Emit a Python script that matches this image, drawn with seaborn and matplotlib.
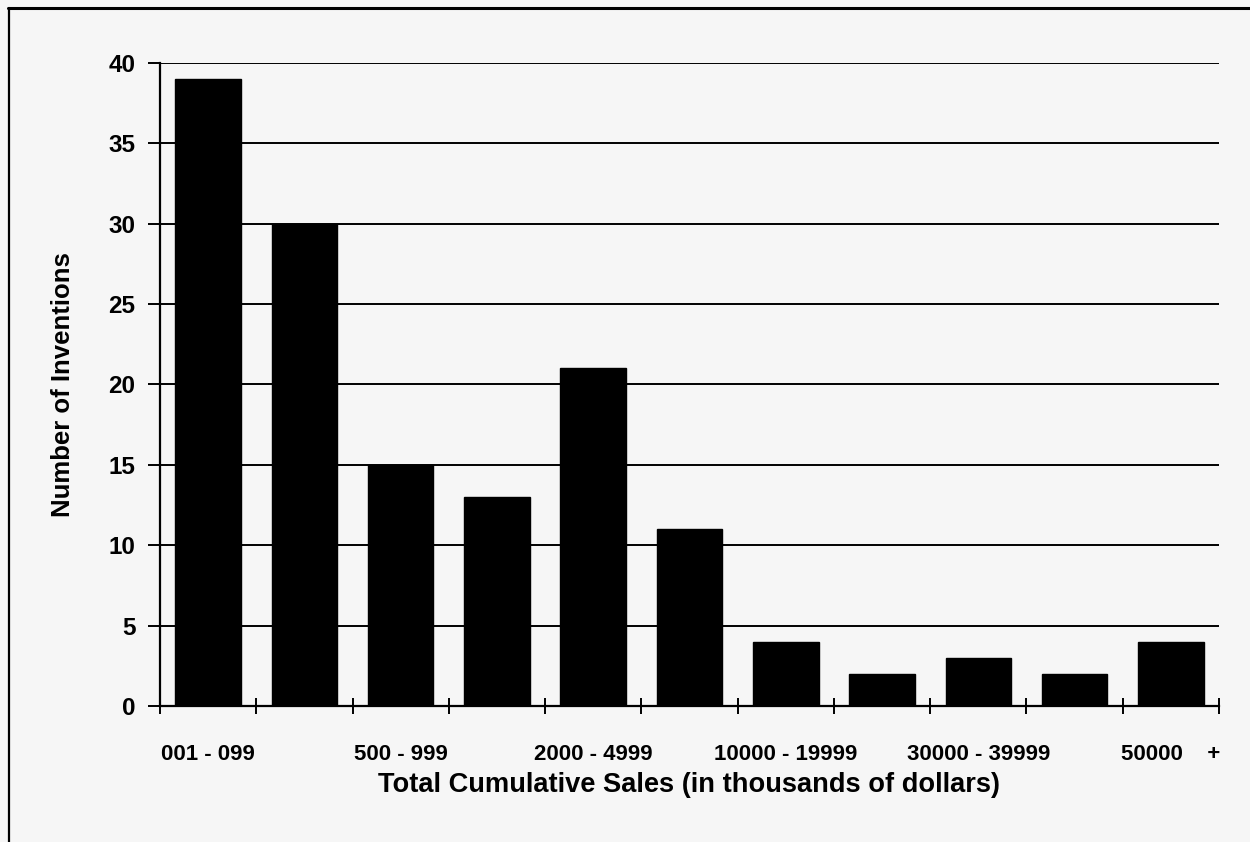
import matplotlib
matplotlib.use("Agg")
import matplotlib.pyplot as plt
from matplotlib.lines import Line2D
import seaborn as sns
import pandas as pd

# Sales brackets (thousands of dollars) and number of inventions in each
categories = ["001 - 099", "100 - 499", "500 - 999", "1000 - 1999", "2000 - 4999",
              "5000 - 9999", "10000 - 19999", "20000 - 29999", "30000 - 39999",
              "40000 - 49999", "50000    +"]
counts = [39, 30, 15, 13, 21, 11, 4, 2, 3, 2, 4]
y_ticks = [0, 5, 10, 15, 20, 25, 30, 35, 40]

df = pd.DataFrame({"bracket": categories, "inventions": counts})

sns.set_style("white")
plt.rcParams["font.family"] = ["Liberation Sans", "DejaVu Sans"]
plt.rcParams["font.weight"] = "bold"
plt.rcParams["text.color"] = "black"
plt.rcParams["axes.labelcolor"] = "black"
plt.rcParams["xtick.color"] = "black"
plt.rcParams["ytick.color"] = "black"

bg = "#f6f6f6"
fig = plt.figure(figsize=(12.5, 8.42), dpi=100, facecolor=bg)
ax = fig.add_axes([0.128, 0.1615, 0.8472, 0.7637], facecolor=bg)

sns.barplot(data=df, x="bracket", y="inventions", color="black", saturation=1,
            width=0.68, edgecolor="black", ax=ax)

n = len(categories)
ax.set_xlim(-0.5, n - 0.5)
ax.set_ylim(0, 40)

# horizontal gridlines behind the bars
ax.set_axisbelow(True)
ax.set_yticks(y_ticks)
ax.set_yticklabels([str(t) for t in y_ticks], fontsize=17.5, fontweight="bold",
                   color="black")
ax.yaxis.grid(True, color="black", linewidth=1.4)
ax.xaxis.grid(False)
ax.tick_params(axis="y", direction="out", length=8.6, width=1.4, pad=9,
               color="black", left=True)

# tick marks at category boundaries, labels on every other bracket
ax.set_xticks([i - 0.5 for i in range(n + 1)])
ax.set_xticklabels([""] * (n + 1))
ax.tick_params(axis="x", which="major", direction="inout", length=11,
               width=1.4, color="black", bottom=True)
label_pos = list(range(0, n, 2))
ax.set_xticks(label_pos, minor=True)
ax.set_xticklabels([categories[i] for i in label_pos], minor=True,
                   fontsize=16, fontweight="bold", color="black")
ax.tick_params(axis="x", which="minor", length=0, pad=27)

for side in ["top", "right"]:
    ax.spines[side].set_visible(False)
for side in ["left", "bottom"]:
    ax.spines[side].set_color("black")
    ax.spines[side].set_linewidth(1.6)

ax.set_xlabel("Total Cumulative Sales (in thousands of dollars)", fontsize=19.6,
              fontweight="bold", va="center", color="black")
ax.xaxis.set_label_coords(0.5, -0.123)
ax.set_ylabel("Number of Inventions", fontsize=18.5, fontweight="bold",
              va="center", color="black")
ax.yaxis.set_label_coords(-0.0916, 0.5)

# frame lines along the left and top edges of the page
fig.add_artist(Line2D([0.0072, 0.0072], [0.0, 0.9905], color="black",
                      linewidth=1.6, transform=fig.transFigure))
fig.add_artist(Line2D([0.0064, 1.0], [0.9905, 0.9905], color="black",
                      linewidth=2.2, transform=fig.transFigure))

fig.savefig("out.png", dpi=100, facecolor=bg)
